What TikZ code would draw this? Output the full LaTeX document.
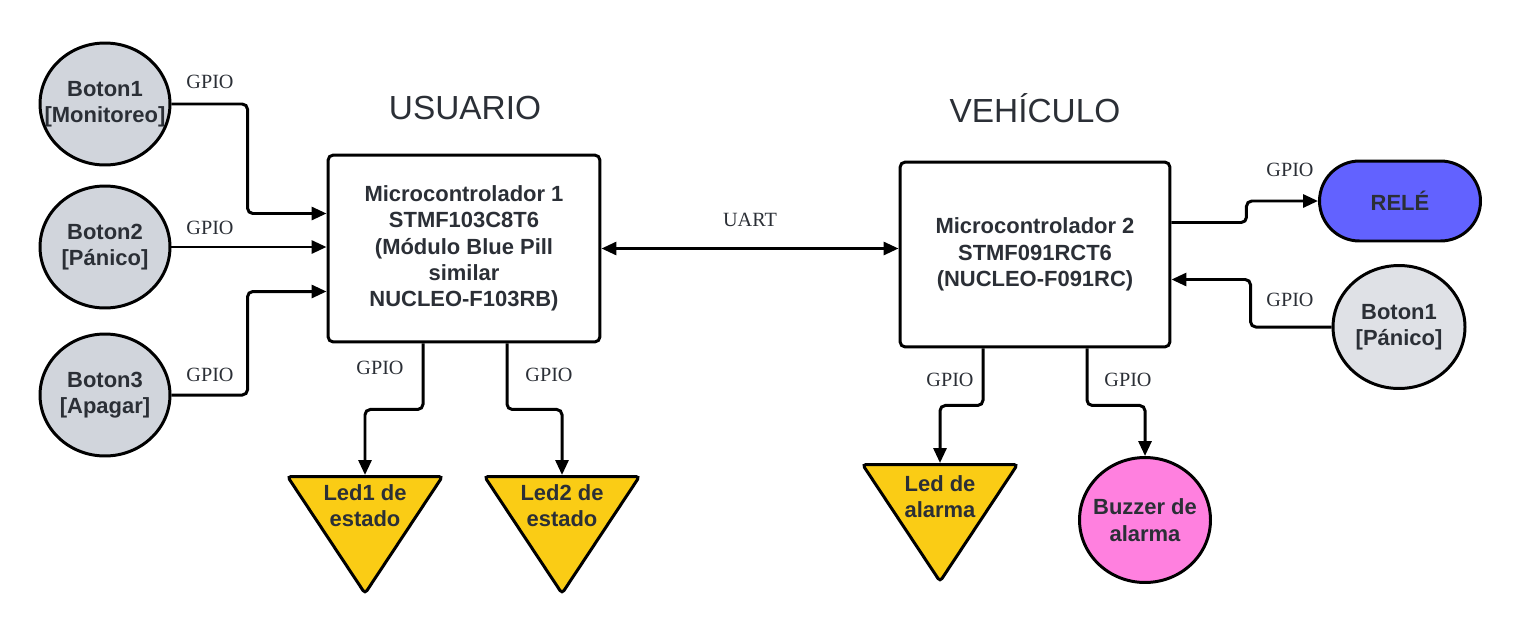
\documentclass[tikz,border=0pt]{standalone}
\usepackage{fontspec}
\setmainfont{Liberation Sans}
\newfontfamily\gpiofont{Liberation Serif}
\usetikzlibrary{calc,positioning,arrows.meta,shapes.geometric}
\definecolor{ink}{HTML}{2B2F36}
\definecolor{btngray}{HTML}{D1D5DC}
\definecolor{btnlight}{HTML}{DFE1E6}
\definecolor{ledyellow}{HTML}{FACC15}
\definecolor{releblue}{HTML}{6262FF}
\definecolor{buzzpink}{HTML}{FF80DF}
\tikzstyle{lbl}    = [font=\bfseries\fontsize{12.5}{15}\selectfont, text=ink, align=center]
\tikzstyle{boton}  = [lbl, ellipse, draw=black, line width=1.7pt, fill=btngray, minimum width=2.6cm, minimum height=2.44cm, inner xsep=-0.3cm, inner ysep=0pt]
\tikzstyle{mcu}    = [lbl, rectangle, rounded corners=3pt, draw=black, line width=1.7pt, minimum width=5.44cm, minimum height=3.74cm]
\tikzstyle{led}    = [lbl, isosceles triangle, isosceles triangle stretches, shape border rotate=270, draw=black, line width=1.7pt, fill=ledyellow, minimum width=3.1cm, minimum height=2.34cm, rounded corners=2pt, inner sep=-0.3cm, anchor=north]
\tikzstyle{gpio}   = [font=\gpiofont\fontsize{11.5}{13}\selectfont, text=ink, inner sep=1pt]
\tikzstyle{titulo} = [font=\fontsize{19}{22}\selectfont, text=ink]
\tikzstyle{arrow}  = [line width=1.7pt, rounded corners=3pt, -{Triangle[length=0.3cm,width=0.26cm]}]

\begin{document}
\begin{tikzpicture}[x=0.02cm, y=-0.02cm]
        \useasboundingbox (0,0) rectangle (1520,636);

        % botones de usuario
        \node[boton] (b1) at (105,104) {Boton1\\{[Monitoreo]}};
        \node[boton] (b2) at (105,247) {Boton2\\{[Pánico]}};
        \node[boton] (b3) at (105,395) {Boton3\\{[Apagar]}};

        % microcontroladores
        \node[titulo] (tusr) at (465,108) {USUARIO};
        \node[titulo] (tveh) at (1035,108) {VEHÍCULO};
        \node[mcu] (mcu1) at (464,248.5) {Microcontrolador 1\\STMF103C8T6\\(Módulo Blue Pill\\similar\\NUCLEO-F103RB)};
        \node[mcu, minimum width=5.4cm, minimum height=3.7cm] (mcu2) at (1035,254.5) {Microcontrolador 2\\STMF091RCT6\\(NUCLEO-F091RC)};

        % salidas y entradas del vehiculo
        \node[lbl, draw=black, line width=1.7pt, fill=releblue, rounded corners=0.8cm, minimum width=3.22cm, minimum height=1.6cm] (rele) at (1400,201) {RELÉ};
        \node[boton, fill=btnlight, minimum width=2.64cm, minimum height=2.46cm] (pan) at (1399,327) {Boton1\\{[Pánico]}};

        % leds y buzzer
        \node[led] (led1) at (365,475) {Led1 de\\estado};
        \node[led] (led2) at (562,475) {Led2 de\\estado};
        \node[led] (ledal) at (940,463) {Led de\\alarma};
        \node[boton, fill=buzzpink, minimum width=2.62cm, minimum height=2.5cm] (buzz) at (1145,520) {Buzzer de\\alarma};

        % conexiones
        \draw[arrow] (b1.east) -| ($(mcu1.west)+(-79,-35)$) -- ($(mcu1.west)+(0,-35)$);
        \draw[arrow] (b2.east) -- (b2.east -| mcu1.west);
        \draw[arrow] (b3.east) -| ($(mcu1.west)+(-79,43)$) -- ($(mcu1.west)+(0,43)$);
        \draw[arrow, {Triangle[length=0.3cm,width=0.26cm]}-{Triangle[length=0.3cm,width=0.26cm]}] (mcu1.east) -- (mcu1.east -| mcu2.west);
        \draw[arrow] ($(mcu2.east)+(0,-32)$) -- ++(75,0) |- (rele.west);
        \draw[arrow] (pan.west) -- ++(-81,0) |- ($(mcu2.east)+(0,25)$);
        \draw[arrow] ($(mcu1.south)+(-41,0)$) -- ++(0,66) -| (led1.north);
        \draw[arrow] ($(mcu1.south)+(43,0)$) -- ++(0,66) -| (led2.north);
        \draw[arrow] ($(mcu2.south)+(-52,0)$) -- ++(0,57) -| (ledal.north);
        \draw[arrow] ($(mcu2.south)+(52,0)$) -- ++(0,57) -| (buzz.north);

        % etiquetas
        \node[gpio] (g1) at (210,82) {GPIO};
        \node[gpio] (g2) at (210,228) {GPIO};
        \node[gpio] (g3) at (210,375) {GPIO};
        \node[gpio] (uart) at (750,220) {UART};
        \node[gpio] (g4) at (380,368) {GPIO};
        \node[gpio] (g5) at (549,375) {GPIO};
        \node[gpio] (g6) at (950,380) {GPIO};
        \node[gpio] (g7) at (1128,380) {GPIO};
        \node[gpio] (g8) at (1290,170) {GPIO};
        \node[gpio] (g9) at (1290,300) {GPIO};
    \end{tikzpicture}
\end{document}
